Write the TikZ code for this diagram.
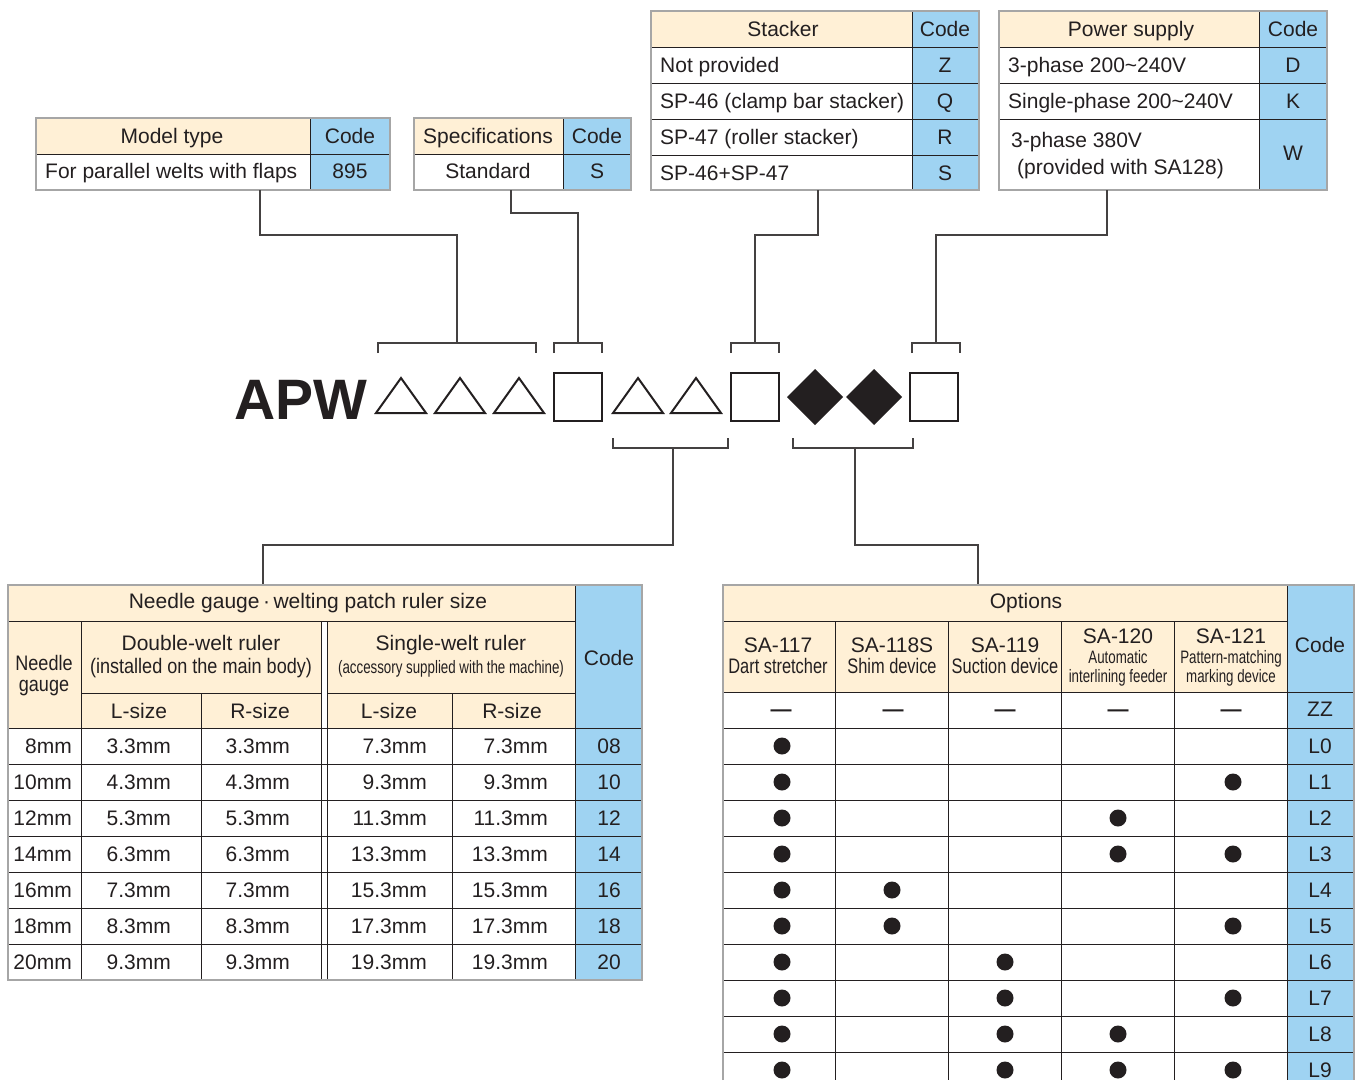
\documentclass[tikz,border=0pt]{standalone}
\usepackage{fontspec}
\setmainfont{Liberation Sans}
\newfontfamily\narrowfont[FakeStretch=0.86]{Liberation Sans}
\newfontfamily\condfont[FakeStretch=0.78]{Liberation Sans}
\newfontfamily\tightfont[FakeStretch=0.74]{Liberation Sans}
\newcommand\mainsz{\fontsize{21}{25}\selectfont}
\newcommand\smallsz{\fontsize{18}{21}\selectfont}
\definecolor{cream}{RGB}{255,240,214}
\definecolor{codeblue}{RGB}{159,211,242}
\definecolor{ink}{RGB}{35,31,32}
\tikzset{
  lbl/.style={anchor=base, inner sep=0pt, text=ink, font=\mainsz},
  grid/.style={draw=ink, line width=0.9pt},
  frame/.style={draw=gray!70, line width=1.6pt},
  link/.style={draw=ink!85, line width=1.3pt},
  sym/.style={draw=ink, line width=2pt, line join=miter},
}
\begin{document}
\begin{tikzpicture}[x=1pt, y=-1pt]
  \useasboundingbox (0,0) rectangle (1360,1080);

  % ---- top tables
  % model type
  \fill[cream] (36,118) rectangle (310,154);
  \fill[codeblue] (310,118) rectangle (390,190);
  \draw[grid] (36,154) -- (390,154) (310,118) -- (310,190);
  \draw[frame] (36,118) rectangle (390,190);
  \node[lbl] (model) at (172,143) {Model type};
  \node[lbl] at (350,143) {Code};
  \node[lbl, anchor=base west] at (45,178.5) {For parallel welts with flaps};
  \node[lbl] at (350,178.5) {895};
  % specifications
  \fill[cream] (414,118) rectangle (563,154);
  \fill[codeblue] (563,118) rectangle (631,190);
  \draw[grid] (414,154) -- (631,154) (563,118) -- (563,190);
  \draw[frame] (414,118) rectangle (631,190);
  \node[lbl] (spec) at (488,143) {Specifications};
  \node[lbl] at (597,143) {Code};
  \node[lbl] at (488,178.5) {Standard};
  \node[lbl] at (597,178.5) {S};
  % stacker
  \fill[cream] (651,11) rectangle (912,47);
  \fill[codeblue] (912,11) rectangle (979,190);
  \foreach \y in {47,83,119,155} \draw[grid] (651,\y) -- (979,\y);
  \draw[grid] (912,11) -- (912,190);
  \draw[frame] (651,11) rectangle (979,190);
  \node[lbl] (stacker) at (783,36) {Stacker};
  \node[lbl] at (945,36) {Code};
  \foreach \t/\c [count=\i from 0] in {Not provided/Z, SP-46 (clamp bar stacker)/Q, SP-47 (roller stacker)/R, SP-46+SP-47/S}{
    \node[lbl, anchor=base west] at (660,72.5+36*\i) {\t};
    \node[lbl] at (945,72.5+36*\i) {\c};
  }
  % power supply
  \fill[cream] (999,11) rectangle (1259,47);
  \fill[codeblue] (1259,11) rectangle (1327,190);
  \foreach \y in {47,83,119} \draw[grid] (999,\y) -- (1327,\y);
  \draw[grid] (1259,11) -- (1259,190);
  \draw[frame] (999,11) rectangle (1327,190);
  \node[lbl] (power) at (1131,36) {Power supply};
  \node[lbl] at (1293,36) {Code};
  \node[lbl, anchor=base west] at (1008,72.5) {3-phase 200\textasciitilde240V};
  \node[lbl] at (1293,72.5) {D};
  \node[lbl, anchor=base west] at (1008,108.5) {Single-phase 200\textasciitilde240V};
  \node[lbl] at (1293,108.5) {K};
  \node[lbl, anchor=base west] at (1011,147.5) {3-phase 380V};
  \node[lbl, anchor=base west] at (1017,174) {(provided with SA128)};
  \node[lbl] at (1293,160.5) {W};

  % ---- model code
  \node[lbl, anchor=base west, font=\fontsize{57}{60}\selectfont\bfseries] (apw) at (234,419) {APW};
  \foreach \x in {376,435,494,613,671}
    \draw[sym] (\x,413) -- ++(50,0) -- ++(-25,-35) -- cycle;
  \foreach \x in {554,731,910}
    \draw[sym] (\x,373) rectangle ++(48,48);
  \foreach \x in {815,874}
    \fill[ink] (\x,369) -- (\x+28,397) -- (\x,425) -- (\x-28,397) -- cycle;

  % ---- connectors
  \coordinate (model-out) at (260,190);   \coordinate (model-in) at (457,343);
  \coordinate (spec-out) at (511,190);    \coordinate (spec-in) at (578,343);
  \coordinate (stacker-out) at (818,190); \coordinate (stacker-in) at (755,343);
  \coordinate (power-out) at (1107,190);  \coordinate (power-in) at (936,343);
  \draw[link] (model-out) -- ++(0,45) -| (model-in);
  \draw[link] (spec-out) -- ++(0,23) -| (spec-in);
  \draw[link] (stacker-out) -- ++(0,45) -| (stacker-in);
  \draw[link] (power-out) -- ++(0,45) -| (power-in);
  \foreach \a/\b in {378/536,554/602,731/779,912/960}
    \draw[link] (\a,353) -- (\a,343) -- (\b,343) -- (\b,353);
  \foreach \a/\b in {613/728,793/913}
    \draw[link] (\a,438) -- (\a,448) -- (\b,448) -- (\b,438);
  \coordinate (gauge-out) at (673,448);  \coordinate (gauge-in) at (263,585);
  \coordinate (option-out) at (855,448); \coordinate (option-in) at (978,585);
  \draw[link] (gauge-out) -- ++(0,97) -| (gauge-in);
  \draw[link] (option-out) -- ++(0,97) -| (option-in);

  % ---- needle gauge table
  \fill[cream] (8,585) rectangle (575,728);
  \fill[white] (321,621) rectangle (327,728);
  \fill[codeblue] (575,585) rectangle (642,980);
  \draw[grid] (8,621) -- (575,621) (81,693) -- (321,693) (327,693) -- (575,693);
  \foreach \y in {728,764,...,944} \draw[grid] (8,\y) -- (642,\y);
  \foreach \x in {81,321,327} \draw[grid] (\x,621) -- (\x,980);
  \foreach \x in {201,452} \draw[grid] (\x,693) -- (\x,980);
  \draw[grid] (575,585) -- (575,980);
  \draw[frame] (8,585) rectangle (642,980);
  \node[lbl] (gauge) at (308,608) {Needle gauge\,·\,welting patch ruler size};
  \node[lbl, font=\mainsz\narrowfont] at (44,670.5) {Needle};
  \node[lbl, font=\mainsz\narrowfont] at (44,691.5) {gauge};
  \node[lbl] at (201,650.5) {Double-welt ruler};
  \node[lbl, font=\mainsz\narrowfont] at (201,673) {(installed on the main body)};
  \node[lbl] at (451,650.5) {Single-welt ruler};
  \node[lbl, font=\smallsz\tightfont] at (451,673) {(accessory supplied with the machine)};
  \foreach \x in {139,389} \node[lbl] at (\x,718) {L-size};
  \foreach \x in {260,512} \node[lbl] at (\x,718) {R-size};
  \node[lbl] at (609,665) {Code};
  \foreach \g/\d/\s/\c [count=\i from 0] in {8mm/3.3mm/7.3mm/08, 10mm/4.3mm/9.3mm/10,
      12mm/5.3mm/11.3mm/12, 14mm/6.3mm/13.3mm/14, 16mm/7.3mm/15.3mm/16,
      18mm/8.3mm/17.3mm/18, 20mm/9.3mm/19.3mm/20}{
    \node[lbl, anchor=base east] at (72,753.5+36*\i) {\g};
    \node[lbl, anchor=base east] at (171,753.5+36*\i) {\d};
    \node[lbl, anchor=base east] at (290,753.5+36*\i) {\d};
    \node[lbl, anchor=base east] at (427,753.5+36*\i) {\s};
    \node[lbl, anchor=base east] at (548,753.5+36*\i) {\s};
    \node[lbl] at (609,753.5+36*\i) {\c};
  }

  % ---- options table
  \fill[cream] (723,585) rectangle (1287,692);
  \fill[codeblue] (1287,585) rectangle (1354,1080);
  \draw[grid] (723,621) -- (1287,621) (723,692) -- (1354,692);
  \foreach \y in {728,764,...,1052} \draw[grid] (723,\y) -- (1354,\y);
  \foreach \x in {835,948,1061,1174} \draw[grid] (\x,621) -- (\x,1080);
  \draw[grid] (1287,585) -- (1287,1080);
  \draw[frame] (723,1080) -- (723,585) -- (1354,585) -- (1354,1080);
  \node[lbl] (options) at (1026,608) {Options};
  \node[lbl] at (778,652.5) {SA-117};
  \node[lbl, font=\mainsz\condfont] at (778,673) {Dart stretcher};
  \node[lbl] at (892,652.5) {SA-118S};
  \node[lbl, font=\mainsz\condfont] at (892,673) {Shim device};
  \node[lbl] at (1005,652.5) {SA-119};
  \node[lbl, font=\mainsz\condfont] at (1005,673) {Suction device};
  \node[lbl] at (1118,643.5) {SA-120};
  \node[lbl, font=\smallsz\tightfont] at (1118,663.5) {Automatic};
  \node[lbl, font=\smallsz\tightfont] at (1118,682) {interlining feeder};
  \node[lbl] at (1231,643.5) {SA-121};
  \node[lbl, font=\smallsz\tightfont] at (1231,663.5) {Pattern-matching};
  \node[lbl, font=\smallsz\tightfont] at (1231,682) {marking device};
  \node[lbl] at (1320,652.5) {Code};
  \foreach \x in {781,893,1005,1118,1231} \node[lbl, font=\mainsz\bfseries] at (\x,716.5) {—};
  \node[lbl] at (1320,716.5) {ZZ};
  \foreach \c/\cols [count=\i from 0] in {L0/{1}, L1/{1,5}, L2/{1,4}, L3/{1,4,5},
      L4/{1,2}, L5/{1,2,5}, L6/{1,3}, L7/{1,3,5}, L8/{1,3,4}, L9/{1,3,4,5}}{
    \node[lbl] at (1320,753.5+36*\i) {\c};
    \foreach \k in \cols {
      \pgfmathsetmacro\dotx{{782,892,1005,1118,1233}[\k-1]}
      \fill[ink] (\dotx,746+36*\i) circle (8.5);
    }
  }
\end{tikzpicture}
\end{document}
